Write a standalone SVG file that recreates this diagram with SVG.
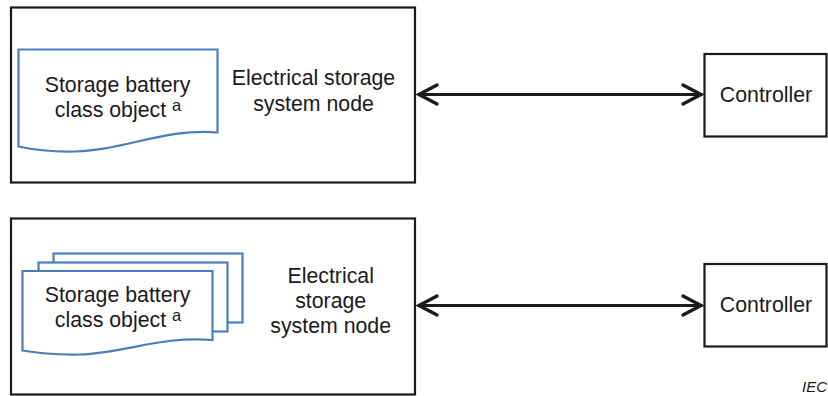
<svg xmlns="http://www.w3.org/2000/svg" width="828" height="396" viewBox="0 0 828 396">
<style>
.box{fill:#fff;stroke:#1a1a1a;stroke-width:2.2}
.doc{fill:#fff;stroke:#4a7ebb;stroke-width:2.2;stroke-linejoin:miter}
.t{font-family:"Liberation Sans",Arial,sans-serif;font-size:21.3px;fill:#1a1a1a;text-anchor:middle}
.sup{font-size:16.5px}
.conn{stroke:#1a1a1a;stroke-width:3.2;fill:none}
.iec{font-family:"Liberation Sans",Arial,sans-serif;font-size:15px;font-style:italic;fill:#1a1a1a;text-anchor:end}
</style>
<defs>
<marker id="chev" markerUnits="userSpaceOnUse" markerWidth="30" markerHeight="30" viewBox="-25 -15 30 30" refX="0" refY="0" orient="auto-start-reverse">
<path d="M-19,-9.5 L-1,0 L-19,9.5" fill="none" stroke="#1a1a1a" stroke-width="3.4" stroke-linecap="round" stroke-linejoin="miter"/>
</marker>
</defs>
<rect width="828" height="396" fill="#fff"/>

<g id="ess-node-1">
<rect class="box" x="11" y="7.5" width="404" height="175"/>
<text class="t" x="313.5" y="85">Electrical storage</text>
<text class="t" x="313.5" y="111">system node</text>
</g>
<g id="battery-object-1">
<path class="doc" d="M18.5,49.5 H217.5 V132.5 C165,128 125,150 75,151.5 C50,152 32,149.5 18.5,146.5 Z"/>
<text class="t" x="117.5" y="92">Storage battery</text>
<text class="t" x="118" y="117.3">class object <tspan class="sup" dy="-6">a</tspan></text>
</g>
<g id="controller-1">
<rect class="box" x="704.5" y="54" width="122" height="82.5"/>
<text class="t" x="766" y="102">Controller</text>
</g>

<g id="ess-node-2">
<rect class="box" x="11" y="218.5" width="404" height="176"/>
<text class="t" x="330.7" y="282.7">Electrical</text>
<text class="t" x="330.7" y="308.3">storage</text>
<text class="t" x="330.7" y="333.3">system node</text>
</g>
<g id="battery-objects-2">
<rect class="doc" x="53.5" y="253.5" width="189" height="69"/>
<rect class="doc" x="38.5" y="262.5" width="189" height="69"/>
<path class="doc" d="M22.5,271 H212.5 V340 C162,335.5 125,353 80,354.5 C55,355 37,353 22.5,350.5 Z"/>
<text class="t" x="117.5" y="301.7">Storage battery</text>
<text class="t" x="118" y="326.8">class object <tspan class="sup" dy="-6">a</tspan></text>
</g>
<g id="controller-2">
<rect class="box" x="704.5" y="264" width="122" height="82.5"/>
<text class="t" x="766" y="312.3">Controller</text>
</g>

<g id="connectors">
<line class="conn" x1="418" y1="94.5" x2="702" y2="94.5" marker-start="url(#chev)" marker-end="url(#chev)"/>
<line class="conn" x1="418" y1="305.5" x2="702" y2="305.5" marker-start="url(#chev)" marker-end="url(#chev)"/>
</g>

<text class="iec" x="827" y="391.5">IEC</text>
</svg>
